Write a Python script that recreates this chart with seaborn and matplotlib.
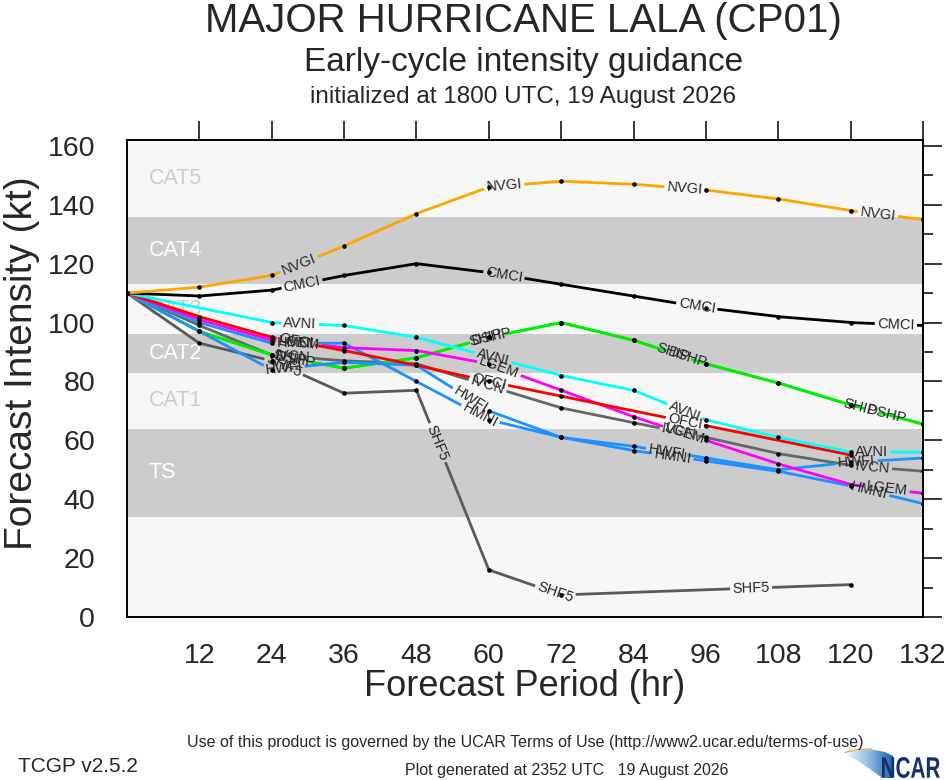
"""
Early-cycle intensity guidance plot for CP01 (Lala).
"""
import numpy as np
import pandas as pd
import matplotlib
matplotlib.use("Agg")
import matplotlib.pyplot as plt
import matplotlib.transforms as mtransforms
import seaborn as sns
from matplotlib.patches import Polygon, PathPatch
from matplotlib.colors import LinearSegmentedColormap
from matplotlib.textpath import TextPath
from matplotlib.font_manager import FontProperties

# Forecast hours and intensities (kt). None = no value at that hour.
hours = [0, 12, 24, 36, 48, 60, 72, 84, 96, 108, 120, 132]

nvgi = [110, 112, 116, 126, 137, 146, 148, 147, 145, 142, 138, 135]
cmci = [110, 109, 111, 116, 120, 117, 113, 109, 105, 102, 100, 99]
avni = [110, None, 100, 99, 95, None, 82, 77, 67, 61, 56, 56]
ofci = [110, 102, 95, 90.5, 85.5, 80, 75, None, 65, None, 55, None]
lgem = [110, 101, 94, 91.5, 90.5, 86, 77, 68, 60, 52, 45, 42]
hwfi = [110, 97, 84, 86.5, 85.5, 70, 61, 58, 54, 50, 52.5, 54]
hmni = [110, 100, 93, 93, 80, 67, 61, 56.5, 53, 49.5, 44.5, 38.5]
ship = [110, 97, 89, 84.5, 88, 95, 100, 94, 86, 79.5, 72, 65.5]
dshp = [110, 97, 89, 84.5, 88, 95, 100, 94, 86, 79.5, 72, 65.5]
ivcn = [110, 99, 89, 87, 86, None, 71, 66, 61, 55.5, 51.5, 49.5]
shf5 = [110, 93, 87, 76, 77, 16, 7.5, None, None, None, 11, None]

# Saffir-Simpson bands (kt)
cat_names = ["TS", "CAT1", "CAT2", "CAT3", "CAT4", "CAT5"]
cat_lower = [34, 64, 83, 96, 113, 136]
cat_upper = [64, 83, 96, 113, 136, 162]

models = {"SHF5": shf5, "IVCN": ivcn, "SHIP": ship, "DSHP": dshp,
          "HMNI": hmni, "HWFI": hwfi, "LGEM": lgem, "OFCI": ofci,
          "AVNI": avni, "CMCI": cmci, "NVGI": nvgi}

colors = {"NVGI": "#ffa500", "CMCI": "#000000", "AVNI": "#00ffff",
          "OFCI": "#ff0000", "LGEM": "#ff00ff", "HWFI": "#1e90ff",
          "HMNI": "#1e90ff", "SHIP": "#00ee00", "DSHP": "#00ee00",
          "IVCN": "#666666", "SHF5": "#5a5a5a"}

# Where the line labels sit (forecast hour along each line)
label_hours = {"NVGI": [28.5, 62.5, 92.5, 124.5],
               "CMCI": [29, 62.5, 94.5, 127.5],
               "AVNI": [28.7, 60.7, 92.5, 123.5],
               "OFCI": [28, 60, 92.5],
               "LGEM": [28.5, 61.7, 92.5, 126],
               "IVCN": [27.5, 59.8, 91.5, 123.6],
               "HWFI": [26, 57, 89.5, 121],
               "HMNI": [28, 58.5, 90.5, 123],
               "SHIP": [27, 59.5, 90.5, 121.5],
               "DSHP": [28, 60.5, 93, 126],
               "SHF5": [26, 51.5, 71, 103.5]}

W, H = 946, 780
sns.set_style("white")
plt.rcParams["font.family"] = ["Liberation Sans", "DejaVu Sans"]
narrow = ["Liberation Sans Narrow", "Liberation Sans", "DejaVu Sans"]

fig = plt.figure(figsize=(W / 100, H / 100), dpi=100)
ax = fig.add_axes([127 / W, 163 / H, 796 / W, 477 / H])
ax.set_xlim(0, 132)
ax.set_ylim(0, 162)
ax.set_facecolor("#f7f7f7")

# Category bands and names
for i, (name, lo, hi) in enumerate(zip(cat_names, cat_lower, cat_upper)):
    shaded = i % 2 == 0
    if shaded:
        ax.axhspan(lo, hi, color="#cccccc", lw=0, zorder=0)
    ax.text(3.6, (lo + hi) / 2, name, fontsize=15.5, ha="left", va="center",
            color="white" if shaded else "#cccccc", zorder=1)

# Ticks and frame
ax.set_xticks(range(12, 133, 12))
ax.set_yticks(range(0, 161, 20))
ax.set_yticks(range(10, 161, 20), minor=True)
ax.tick_params(which="major", direction="out", length=14, width=1.3,
               labelsize=20.5, top=True, right=True)
ax.tick_params(axis="y", which="major", pad=9)
ax.tick_params(axis="x", which="major", pad=5)
ax.tick_params(which="minor", direction="out", length=7, width=1.3,
               top=True, right=True)
for sp in ax.spines.values():
    sp.set_linewidth(1.4)
    sp.set_color("black")

renderer = fig.canvas.get_renderer()
inv = ax.transData.inverted()
rows = []

# Lines with NCL-style labels cut into them
for name, vals in models.items():
    x = np.array([h for h, v in zip(hours, vals) if v is not None], float)
    y = np.array([v for v in vals if v is not None], float)
    rows += [{"model": name, "hour": a, "kt": b} for a, b in zip(x, y)]

    pts = ax.transData.transform(np.column_stack([x, y]))
    dense = [pts[0]]
    for a, b in zip(pts[:-1], pts[1:]):
        n = max(int(np.hypot(*(b - a)) * 2), 1)
        t = np.linspace(0, 1, n + 1)[1:]
        dense.extend(a + (b - a) * t[:, None])
    dense = np.array(dense)
    s = np.concatenate([[0], np.cumsum(np.hypot(*np.diff(dense, axis=0).T))])
    keep = np.ones(len(dense), bool)

    for h in label_hours[name]:
        xh = ax.transData.transform((h, 0))[0]
        s0 = np.interp(xh, dense[:, 0], s)
        px = np.interp(s0, s, dense[:, 0])
        py = np.interp(s0, s, dense[:, 1])
        qx = np.interp([s0 - 6, s0 + 6], s, dense[:, 0])
        qy = np.interp([s0 - 6, s0 + 6], s, dense[:, 1])
        ang = np.degrees(np.arctan2(qy[1] - qy[0], qx[1] - qx[0]))
        lx, ly = inv.transform((px, py))
        txt = ax.text(lx, ly, name, fontsize=10.5, ha="center", va="center",
                      rotation_mode="anchor", zorder=4)
        w = txt.get_window_extent(renderer).width
        txt.set_rotation(ang)
        keep &= np.abs(s - s0) > w / 2 + 2

    line = inv.transform(dense)
    line[~keep] = np.nan
    ax.plot(line[:, 0], line[:, 1], color=colors[name], lw=2.0, zorder=3,
            solid_capstyle="butt")

dots = pd.DataFrame(rows)
sns.scatterplot(data=dots, x="hour", y="kt", color="black", s=11,
                linewidth=0, ax=ax, zorder=5, legend=False)
ax.set_xlabel("Forecast Period (hr)", fontsize=26, labelpad=0)
ax.set_ylabel("Forecast Intensity (kt)", fontsize=28)
ax.yaxis.set_label_coords(-0.109, 0.532)

# Titles
fig.text(0.553, 1 - 21 / H, "MAJOR HURRICANE LALA (CP01)", fontsize=29,
         ha="center", va="center")
fig.text(0.553, 1 - 62 / H, "Early-cycle intensity guidance", fontsize=24,
         ha="center", va="center")
fig.text(0.553, 1 - 97 / H, "initialized at 1800 UTC, 19 August 2026",
         fontsize=17.5, ha="center", va="center")

# Footer
fig.text(0.5555, 1 - 742 / H,
         "Use of this product is governed by the UCAR Terms of Use "
         "(http://www2.ucar.edu/terms-of-use)",
         fontsize=11.5, ha="center", va="center", family=narrow)
fig.text(18 / W, 1 - 766 / H, "TCGP v2.5.2", fontsize=15, ha="left",
         va="center", family=narrow)
fig.text(567 / W, 1 - 770 / H, "Plot generated at 2352 UTC   19 August 2026",
         fontsize=11.5, ha="center", va="center", family=narrow)

# NCAR logo, drawn in pixel units (y measured up from the bottom edge)
logo = fig.add_axes([840 / W, 0, 106 / W, 35 / H])
logo.set_xlim(840, 946)
logo.set_ylim(0, 35)
logo.axis("off")
cmap = LinearSegmentedColormap.from_list("swoosh", ["#f4f8fc", "#8cbbe6", "#1d5aa8"])
grad = logo.imshow(np.linspace(0, 1, 200)[None, :], extent=[845, 893, 0, 35],
                   cmap=cmap, aspect="auto")
wedge = Polygon([(845, 27), (858, 30), (872, 30.5), (885, 28), (893, 24),
                 (893, 2), (882, 2), (870, 11), (858, 19), (845, 26)],
                closed=True, transform=logo.transData)
grad.set_clip_path(wedge)
logo.plot([845, 858, 872], [27.6, 30.6, 31.1], color="#f0a030", lw=0.9)
tp = TextPath((0, 0), "NCAR", size=30,
              prop=FontProperties(family="Liberation Sans", weight="bold"))
bb = tp.get_extents()
squeeze = (mtransforms.Affine2D().translate(-bb.x0, -bb.y0)
           .scale(58 / bb.width, 21 / bb.height).translate(882, 2))
logo.add_patch(PathPatch(tp, transform=squeeze + logo.transData,
                         color="#13306a", lw=0))

fig.savefig("out.png", dpi=100, facecolor="white")
